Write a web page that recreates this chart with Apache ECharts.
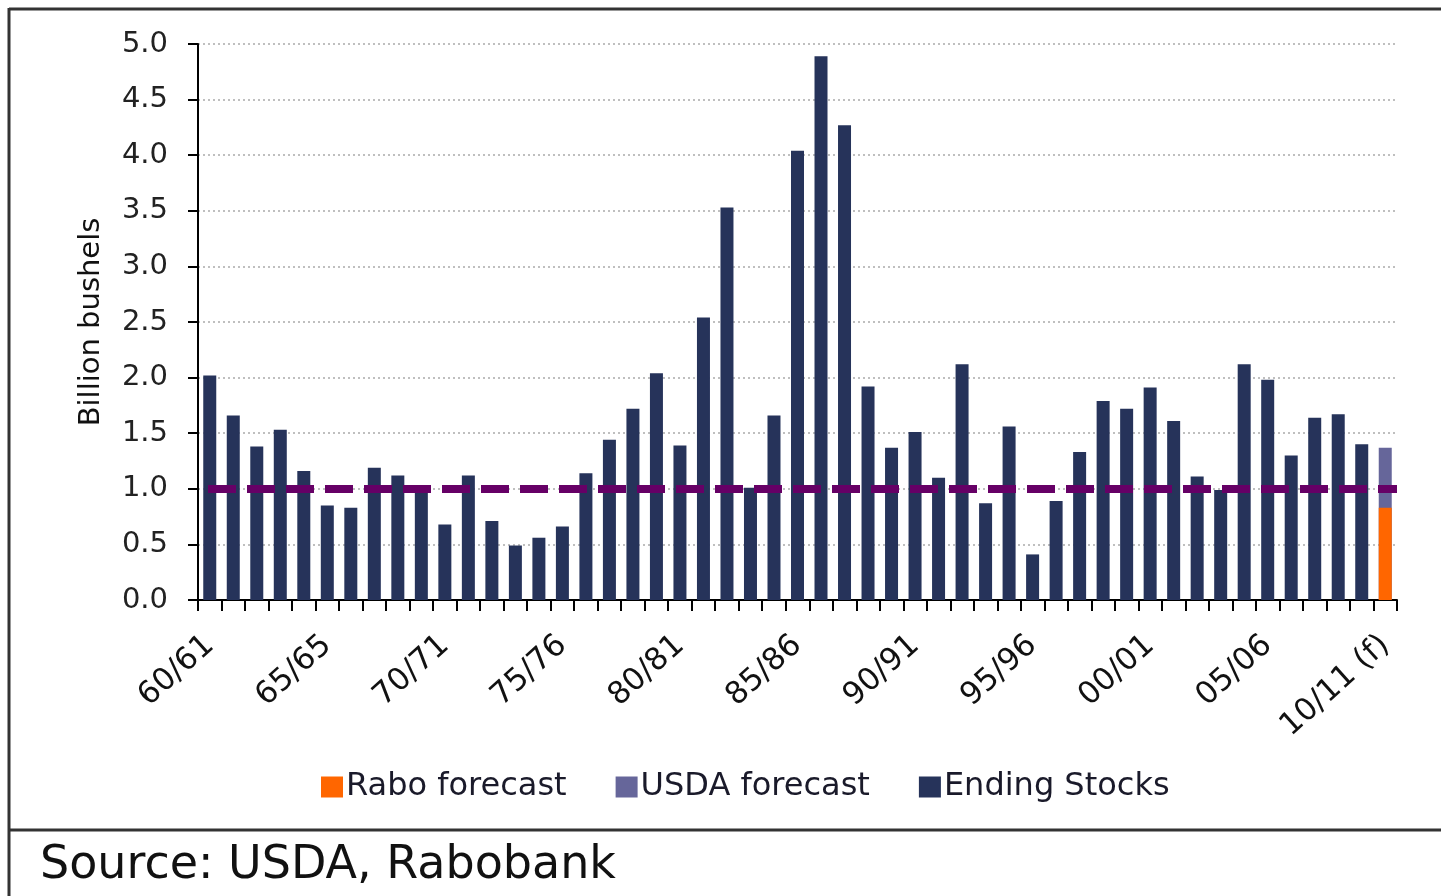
<!DOCTYPE html>
<html>
<head>
<meta charset="utf-8">
<title>US corn ending stocks</title>
<script src="https://cdn.jsdelivr.net/npm/echarts@6/dist/echarts.min.js"></script>
<style>
    html, body { margin: 0; padding: 0; background: #fff; }
    #chart { width: 1441px; height: 896px; }
</style>
</head>
<body>
<div id="chart"></div>
<script>
// marketing years, label shown every 5th one (the "65/65" typo is in the original)
var years = ['60/61','61/62','62/63','63/64','64/65','65/65','66/67','67/68','68/69','69/70',
             '70/71','71/72','72/73','73/74','74/75','75/76','76/77','77/78','78/79','79/80',
             '80/81','81/82','82/83','83/84','84/85','85/86','86/87','87/88','88/89','89/90',
             '90/91','91/92','92/93','93/94','94/95','95/96','96/97','97/98','98/99','99/00',
             '00/01','01/02','02/03','03/04','04/05','05/06','06/07','07/08','08/09','09/10',
             '10/11 (f)'];

// billion bushels
var endingStocks = [2.02, 1.66, 1.38, 1.53, 1.16, 0.85, 0.83, 1.19, 1.12, 1.01,
                    0.68, 1.12, 0.71, 0.49, 0.56, 0.66, 1.14, 1.44, 1.72, 2.04,
                    1.39, 2.54, 3.53, 1.01, 1.66, 4.04, 4.89, 4.27, 1.92, 1.37,
                    1.51, 1.10, 2.12, 0.87, 1.56, 0.41, 0.89, 1.33, 1.79, 1.72,
                    1.91, 1.61, 1.11, 0.99, 2.12, 1.98, 1.30, 1.64, 1.67, 1.40,
                    null];
var usdaForecast = { year: '10/11 (f)', value: 1.37 };
var raboForecast = { year: '10/11 (f)', value: 0.83 };
var refLevel = 1.0;

var yTicks = { min: 0, max: 5, step: 0.5 };

function onlyLast(v) {
    return years.map(function (y) { return y === v.year ? v.value : null; });
}

var font = 'DejaVu Sans';

var option = {
    animation: false,
    textStyle: { fontFamily: font },
    grid: { left: 198, right: 44, top: 44, bottom: 296, containLabel: false },
    legend: {
        data: ['Rabo forecast', 'USDA forecast', 'Ending Stocks'],
        left: 316, top: 766,
        itemWidth: 22, itemHeight: 21, itemGap: 49,
        icon: 'rect',
        textStyle: { fontSize: 32, color: '#1a1a2a', padding: [0, 0, 0, -2] }
    },
    xAxis: {
        type: 'category',
        data: years,
        axisLine: { lineStyle: { color: '#000', width: 2 } },
        axisTick: { show: true, interval: 0, length: 11, lineStyle: { color: '#000', width: 2 } },
        axisLabel: {
            interval: 4, rotate: 42, margin: 41,
            fontSize: 31, color: '#111'
        },
        splitLine: { show: false }
    },
    yAxis: {
        type: 'value',
        min: yTicks.min, max: yTicks.max, interval: yTicks.step,
        name: 'Billion bushels',
        nameLocation: 'middle',
        nameGap: 92,
        nameTextStyle: { fontSize: 29, color: '#111' },
        axisLine: { show: true, lineStyle: { color: '#000', width: 2 } },
        axisTick: { show: true, length: 10, lineStyle: { color: '#000', width: 2 } },
        axisLabel: {
            margin: 30, fontSize: 29, color: '#222',
            formatter: function (v) { return v.toFixed(1); }
        },
        splitLine: { lineStyle: { color: '#aaa', type: [2, 3], width: 1.5 } }
    },
    series: [
        {
            name: 'USDA forecast',
            type: 'bar',
            data: onlyLast(usdaForecast),
            barWidth: 13,
            barGap: '-100%',
            itemStyle: { color: '#66669a' }
        },
        {
            name: 'Rabo forecast',
            type: 'bar',
            data: onlyLast(raboForecast),
            barWidth: 13,
            barGap: '-100%',
            itemStyle: { color: '#ff6600' }
        },
        {
            name: 'Ending Stocks',
            type: 'bar',
            data: endingStocks,
            barWidth: 13,
            barGap: '-100%',
            itemStyle: { color: '#26335a' },
            markLine: {
                silent: true,
                symbol: ['none', 'none'],
                label: { show: false },
                z: 10,
                lineStyle: {
                    color: '#660066', width: 8, type: [28, 11], dashOffset: 29
                },
                data: [{ yAxis: refLevel }]
            }
        }
    ],
    graphic: [
        // frame round the chart and the source strip
        { type: 'line', shape: { x1: 9, y1: 9, x2: 1441, y2: 9 }, style: { stroke: '#333', lineWidth: 3 } },
        { type: 'line', shape: { x1: 9, y1: 8, x2: 9, y2: 896 }, style: { stroke: '#333', lineWidth: 3 } },
        { type: 'line', shape: { x1: 9, y1: 830, x2: 1441, y2: 830 }, style: { stroke: '#333', lineWidth: 3 } },
        {
            type: 'text', left: 40, top: 843,
            style: { text: 'Source: USDA, Rabobank', fontSize: 46, fontFamily: font, fill: '#111' }
        }
    ]
};

var myChart = echarts.init(document.getElementById('chart'));
myChart.setOption(option);
</script>
</body>
</html>
